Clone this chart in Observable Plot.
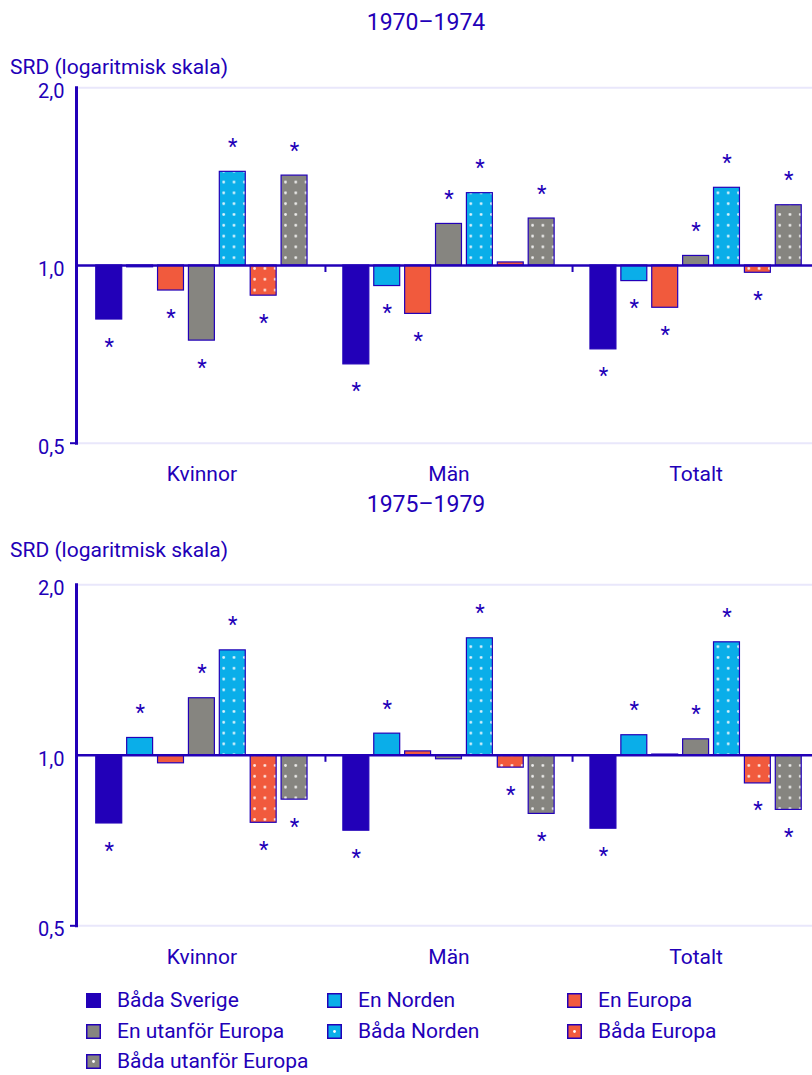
<!DOCTYPE html>
<html><head><meta charset="utf-8">
<script src="https://cdn.jsdelivr.net/npm/d3@7"></script>
<script src="https://cdn.jsdelivr.net/npm/@observablehq/plot@0.6"></script>
<style>
body{margin:0;background:#fff;font-family:Roboto,sans-serif;color:#2200b8;}
#root{position:relative;width:812px;height:1075px;overflow:hidden;}
.abs{position:absolute;white-space:nowrap;line-height:30px;height:30px;}
.title{font-size:23px;transform:translateX(-50%);}
.ylab{font-size:21px;}
.leg{position:absolute;display:flex;align-items:center;height:30px;font-size:21px;white-space:nowrap;}
.leg svg{margin-right:16px;flex:none;}
.panel{position:absolute;left:0;}
</style></head><body><div id="root"></div>
<script>
// ---- data ----
const groups = ["Kvinnor", "Män", "Totalt"];
const series = ["Båda Sverige", "En Norden", "En Europa", "En utanför Europa", "Båda Norden", "Båda Europa", "Båda utanför Europa"];
const periods = ["1970–1974", "1975–1979"];
const yLabel = "SRD (logaritmisk skala)";
const yTicks = [0.5, 1, 2];
const yTickLabels = ["0,5", "1,0", "2,0"];

// 1970–1974 SRD values (series order as above)
const p1Kvinnor = [0.81, 0.993, 0.907, 0.746, 1.441, 0.889, 1.42];
const p1Man     = [0.68, 0.923, 0.828, 1.176, 1.326, 1.012, 1.201];
const p1Totalt  = [0.721, 0.941, 0.848, 1.038, 1.354, 0.972, 1.265];
// significance (1 = asterisk)
const s1Kvinnor = [1, 0, 1, 1, 1, 1, 1];
const s1Man     = [1, 1, 1, 1, 1, 0, 1];
const s1Totalt  = [1, 1, 1, 1, 1, 1, 1];

// 1975–1979
const p2Kvinnor = [0.758, 1.073, 0.968, 1.261, 1.532, 0.76, 0.835];
const p2Man     = [0.736, 1.092, 1.016, 0.984, 1.609, 0.951, 0.788];
const p2Totalt  = [0.742, 1.085, 1.003, 1.067, 1.583, 0.892, 0.801];
const s2Kvinnor = [1, 1, 0, 1, 1, 1, 1];
const s2Man     = [1, 1, 0, 0, 1, 1, 1];
const s2Totalt  = [1, 1, 0, 1, 1, 1, 1];

// ---- style ----
const navy = "#2200b8";
const cNorden = "#0aaee9";
const cEuropa = "#f15a3d";
const cGrey = "#868580";
const gridColor = "#e9e7fb";
const baseColors = [navy, cNorden, cEuropa, cGrey, cNorden, cEuropa, cGrey];
const dotted = [false, false, false, false, true, true, true];

const root = document.getElementById("root");

function addDiv(cls, text, left, top) {
  const d = document.createElement("div");
  d.className = "abs " + cls;
  d.textContent = text;
  d.style.left = left + "px";
  d.style.top = top + "px";
  root.appendChild(d);
  return d;
}

function panel(idx, period, vals, sigs, top, mTop, mBottom) {
  const rows = [];
  groups.forEach((g, gi) => series.forEach((s, si) => rows.push({
    key: g + "|" + s, group: g, series: s, value: vals[gi][si], sig: sigs[gi][si]
  })));
  const xDomain = groups.flatMap((g, i) => [...(i ? ["sep" + i] : []), ...series.map(s => g + "|" + s)]);
  const seps = groups.slice(1).map((g, i) => "sep" + (i + 1));
  const labelKeys = groups.map(g => g + "|" + series[3]);
  const fills = series.map((s, i) => dotted[i] ? `url(#dots${idx}_${i})` : baseColors[i]);

  const chart = Plot.plot({
    width: 812,
    height: 490,
    marginLeft: 76,
    marginRight: -9,
    marginTop: mTop,
    marginBottom: mBottom,
    style: {fontFamily: "Roboto, sans-serif", fontSize: "21px", color: navy, background: "transparent"},
    x: {type: "band", domain: xDomain, paddingInner: 0.16, paddingOuter: 0.64, round: false, label: null},
    y: {type: "log", domain: [0.5, 2], label: null},
    color: {domain: series, range: fills},
    marks: [
      Plot.ruleY([0.5, 2], {stroke: gridColor, strokeWidth: 2}),
      Plot.barY(rows, {x: "key", y1: 1, y2: "value", fill: "series", stroke: navy, strokeWidth: 1.2}),
      Plot.ruleY([1], {stroke: navy, strokeWidth: 2.5}),
      Plot.ruleX(seps, {x: d => d, y1: 1, y2: 1, stroke: navy, strokeWidth: 2, insetBottom: -7}),
      Plot.frame({anchor: "left", stroke: navy, strokeWidth: 3}),
      Plot.axisY({ticks: [yTicks[0]], tickSize: 6, tickFormat: () => "", strokeWidth: 2, label: null}),
      Plot.axisY({ticks: yTicks, tickFormat: d => yTickLabels[yTicks.indexOf(d)], tickSize: 0, tickPadding: 12, fontSize: 20, dy: 4, label: null}),
      Plot.axisX({ticks: labelKeys, tickFormat: k => k.split("|")[0], tickSize: 0, tickPadding: 23, fontSize: 21, label: null}),
      Plot.text(rows.filter(d => d.sig && d.value >= 1), {x: "key", y: "value", text: () => "*", dy: -25, fontSize: 22, fill: navy}),
      Plot.text(rows.filter(d => d.sig && d.value < 1), {x: "key", y: "value", text: () => "*", dy: 27, fontSize: 22, fill: navy})
    ]
  });

  // dot patterns aligned to the x scale's band step
  const xs = chart.scale("x");
  const x0 = xs.apply(xDomain[0]);
  const w = xs.step / 3;
  const h = 10.8;
  let defs = "<defs>";
  series.forEach((s, i) => {
    if (!dotted[i]) return;
    defs += `<pattern id="dots${idx}_${i}" patternUnits="userSpaceOnUse" x="${x0 + 4.4 - w / 2}" y="${mTop + 3}" width="${w}" height="${h}">` +
      `<rect width="${w}" height="${h}" fill="${baseColors[i]}"/>` +
      `<circle cx="${w / 2}" cy="${h / 2}" r="1.4" fill="#fff" fill-opacity="0.85"/></pattern>`;
  });
  defs += "</defs>";
  chart.insertAdjacentHTML("afterbegin", defs);

  const wrap = document.createElement("div");
  wrap.className = "panel";
  wrap.style.top = top + "px";
  wrap.appendChild(chart);
  root.appendChild(wrap);
}

panel(1, periods[0], [p1Kvinnor, p1Man, p1Totalt], [s1Kvinnor, s1Man, s1Totalt], 0, 87.3, 47.3);
panel(2, periods[1], [p2Kvinnor, p2Man, p2Totalt], [s2Kvinnor, s2Man, s2Totalt], 490, 94.3, 54.7);

// titles and y labels
addDiv("title", periods[0], 426, 8);
addDiv("ylab", yLabel, 10, 52);
addDiv("title", periods[1], 426, 490);
addDiv("ylab", yLabel, 10, 535);

// legend
const legCols = [86, 327, 567];
const legRows = [985, 1016, 1046];
series.forEach((s, i) => {
  const d = document.createElement("div");
  d.className = "leg";
  d.style.left = legCols[i % 3] + "px";
  d.style.top = legRows[Math.floor(i / 3)] + "px";
  const dot = dotted[i] ? `<circle cx="7.5" cy="7.5" r="1.4" fill="#fff"/>` : "";
  d.innerHTML = `<svg width="15" height="15"><rect x="0.75" y="0.75" width="13.5" height="13.5" fill="${baseColors[i]}" stroke="${navy}" stroke-width="1.5"/>${dot}</svg><span></span>`;
  d.querySelector("span").textContent = s;
  root.appendChild(d);
});
</script>
</body></html>
